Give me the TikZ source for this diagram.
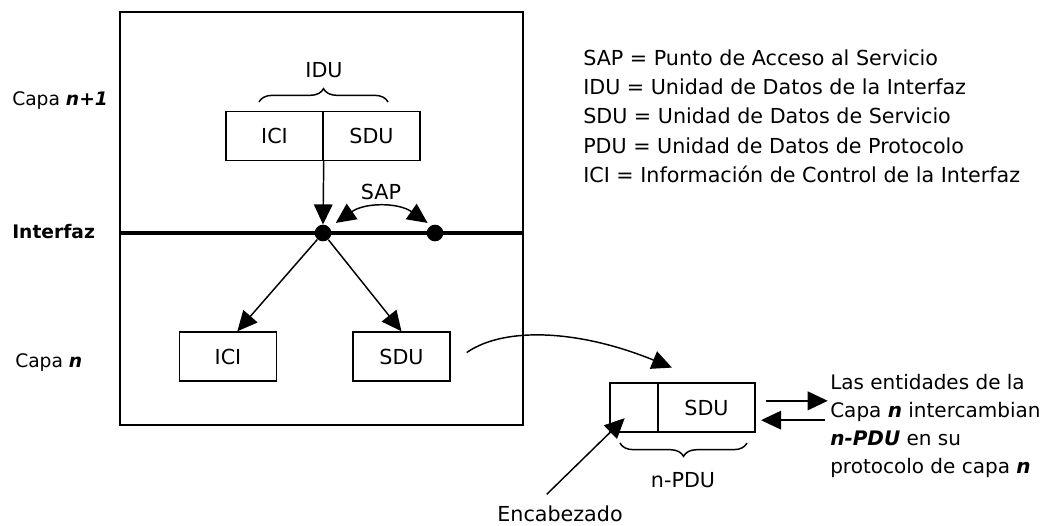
\documentclass[tikz,border=0pt]{standalone}
\usepackage{fontspec}
\setmainfont{DejaVu Sans}
\usetikzlibrary{arrows.meta,decorations.pathreplacing}

\begin{document}
\begin{tikzpicture}[x=0.75pt,y=-0.75pt,
  every node/.style={font=\fontsize{15.5}{18}\selectfont, inner sep=0pt},
  cell/.style={draw, line width=1.1pt, minimum height=36.75pt, minimum width=72.75pt},
  headcell/.style={cell, minimum width=36pt},
  sapdot/.style={circle, fill=black, minimum size=12.5pt},
  tip/.tip={Triangle[length=15pt,width=14pt]},
  arr/.style={line width=1.1pt, -tip},
  dblarr/.style={line width=1.1pt, tip-tip},
  bracedown/.style={decorate, decoration={brace, amplitude=10pt}, line width=1.1pt},
  lbl/.style={anchor=base west},
  side/.style={anchor=base west, font=\fontsize{14}{16}\selectfont},
  peer/.style={anchor=base west, font=\fontsize{15}{18}\selectfont}
]
\useasboundingbox (0,0) rectangle (1041,525);

% layer frame and the interface between layers
\draw[line width=1.4pt] (120,12) rectangle (523,425);
\draw[line width=2.6pt] (120,233) -- (523,233);

% layer labels
\node[side] (capaTop) at (12,105) {Capa \textbf{\textit{n+1}}};
\node[side] (interfaz) at (12,238) {\bfseries Interfaz};
\node[side] (capaBot) at (15,367) {Capa \textbf{\textit{n}}};

% IDU = ICI + SDU
\node[cell] (iduIci) at (274.5,136) {ICI};
\node[cell] (iduSdu) at (371.5,136) {SDU};
\draw[bracedown] (259,102) -- (388,102);
\node[anchor=base] (idu) at (324,77) {IDU};

% service access points
\node[sapdot] (sapA) at (323,233) {};
\node[sapdot] (sapB) at (435,233) {};
\draw[arr] (iduIci.south east) -- (sapA.north);
\draw[dblarr] ([shift={(5pt,3pt)}]sapA.north east) to[bend left=35] ([shift={(-1pt,3pt)}]sapB.north west);
\node[anchor=base] (sap) at (381,199) {SAP};

% layer n receives ICI and SDU
\node[cell] (ici) at (228,356.5) {ICI};
\node[cell] (sdu) at (401.5,356.5) {SDU};
\draw[arr] (sapA) -- ([xshift=7pt]ici.north);
\draw[arr] (sapA) -- (sdu.north);

% n-PDU = header + SDU
\node[headcell] (pduHead) at (634,407.5) {};
\node[cell] (pduSdu) at (706.5,407.5) {SDU};
\draw[arr] ([shift={(12pt,3pt)}]sdu.east) .. controls (505,326) and (580,330) .. ([shift={(11pt,11pt)}]pduSdu.north west);
\draw[bracedown] (747,443) -- (620,443);
\node[anchor=base] (npdu) at (683,487) {n-PDU};
\node[anchor=base] (enc) at (560,521) {Encabezado};
\draw[arr] ([shift={(-10pt,8pt)}]enc.north) -- ([shift={(-7pt,-8pt)}]pduHead.center);

% peer exchange
\draw[arr] ([shift={(7.5pt,5pt)}]pduSdu.east) -- ([shift={(54pt,5pt)}]pduSdu.east);
\draw[arr] ([shift={(52pt,-9.5pt)}]pduSdu.east) -- ([shift={(4pt,-9.5pt)}]pduSdu.east);
\node[peer] (peer1) at (830,389) {Las entidades de la};
\node[peer] (peer2) at (830,417) {Capa \textbf{\textit{n}} intercambian};
\node[peer] (peer3) at (830,445) {\textbf{\textit{n-PDU}} en su};
\node[peer] (peer4) at (830,473) {protocolo de capa \textbf{\textit{n}}};

% glossary
\node[lbl] (leg1) at (583,65) {SAP = Punto de Acceso al Servicio};
\node[lbl] (leg2) at (583,94.5) {IDU = Unidad de Datos de la Interfaz};
\node[lbl] (leg3) at (583,123.5) {SDU = Unidad de Datos de Servicio};
\node[lbl] (leg4) at (583,153) {PDU = Unidad de Datos de Protocolo};
\node[lbl] (leg5) at (583,182) {ICI = Información de Control de la Interfaz};
\end{tikzpicture}
\end{document}
